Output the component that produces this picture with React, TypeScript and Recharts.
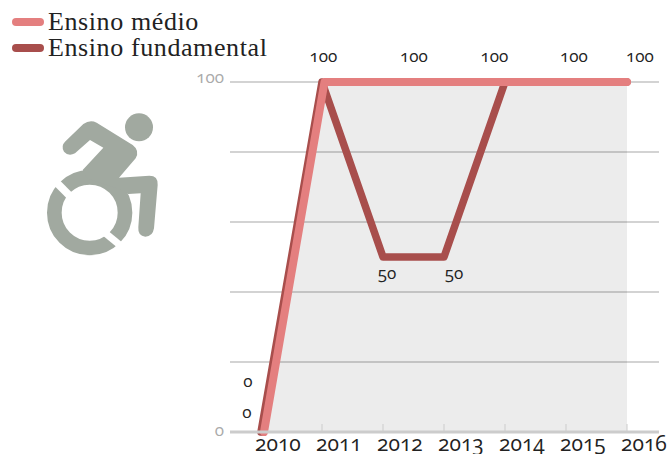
import { ComposedChart, Area, Line, XAxis, YAxis, CartesianGrid, LabelList } from "recharts";

const YEARS = ["2010", "2011", "2012", "2013", "2014", "2015", "2016"];
const MEDIO = [0, 100, 100, 100, 100, 100, 100];
const FUNDAMENTAL = [0, 100, 50, 50, 100, 100, 100];
const GRID_VALUES = [0, 20, 40, 60, 80, 100];

const SERIF = "'Liberation Serif', serif";
const NUM_FONT = "'Open Sans', sans-serif";
const NUMS = { fontVariantNumeric: "oldstyle-nums" } as const;

// where the original nudged its value labels, by point index
const MEDIO_LABELS: Record<number, [number, number]> = {
  0: [-16, -45],
  1: [-1, -20],
  2: [29, -20],
  3: [49, -20],
  4: [68, -20],
  6: [13, -20],
};
const FUNDAMENTAL_LABELS: Record<number, [number, number]> = {
  0: [-14, -14],
  2: [4, 22],
  3: [10, 22],
};

const chartData = YEARS.map((year, i) => ({
  year,
  medio: MEDIO[i],
  fundamental: FUNDAMENTAL[i],
}));

function valueLabel(offsets: Record<number, [number, number]>) {
  return (props: any) => {
    const at = offsets[props.index];
    if (!at) return null;
    return (
      <text
        x={props.x + at[0]}
        y={props.y + at[1]}
        textAnchor="middle"
        fontSize={17}
        fontFamily={NUM_FONT}
        fill="#222"
        style={NUMS}
      >
        {props.value}
      </text>
    );
  };
}

function YearTick({ x, y, payload, index }: any) {
  // y comes in 8px below the axis line
  const base = y - 8;
  return (
    <g>
      {index > 0 && <line x1={x} x2={x} y1={base - 8} y2={base} stroke="#ccc" strokeWidth={1} />}
      <text x={x - 6} y={base + 19} fontSize={21} fontFamily={NUM_FONT} fill="#222" style={NUMS}>
        {payload.value}
      </text>
    </g>
  );
}

function ValueTick({ x, y, payload }: any) {
  return (
    <text
      x={x + 2}
      y={payload.value === 0 ? y + 4 : y + 1}
      textAnchor="end"
      fontSize={17}
      fontFamily={NUM_FONT}
      fill="#aaa"
      style={NUMS}
    >
      {payload.value}
    </text>
  );
}

function LegendRow({ color, label }: { color: string; label: string }) {
  return (
    <div style={{ display: "flex", alignItems: "center", height: 26, lineHeight: "26px" }}>
      <span style={{ width: 32, height: 8, borderRadius: 4, background: color, marginRight: 4 }} />
      <span style={{ fontFamily: SERIF, fontSize: 26, letterSpacing: 0.6, color: "#222" }}>{label}</span>
    </div>
  );
}

function WheelchairIcon() {
  const c = "#a1a9a0";
  return (
    <svg width={125} height={150} viewBox="0 0 375 450" style={{ position: "absolute", left: 40, top: 110 }}>
      <circle cx={297} cy={52} r={42} fill={c} />
      <circle cx={149} cy={308} r={106} fill="none" stroke={c} strokeWidth={44} />
      <path
        d="M75 95 L130 42 Q150 28 170 38 L278 105 Q300 122 287 145 L237 203 L328 197 Q355 197 353 225 L342 355 Q338 380 316 380 Q293 378 295 352 L302 250 L265 252 L230 235 L140 205 L128 180 L190 113 L150 90 L105 130 Q85 140 72 125 Q62 108 75 95 Z"
        fill={c}
      />
      <line x1={45} y1={213} x2={92} y2={260} stroke="#fff" strokeWidth={23} />
      <line x1={192} y1={366} x2={243} y2={408} stroke="#fff" strokeWidth={21} />
    </svg>
  );
}

export default function App() {
  return (
    <div style={{ position: "fixed", left: 0, top: 0, width: 669, height: 454, overflow: "hidden", background: "#fff" }}>
      <ComposedChart
        width={669}
        height={454}
        data={chartData}
        margin={{ top: 82, right: 10, bottom: 0, left: 190 }}
      >
        <CartesianGrid horizontalValues={GRID_VALUES} vertical={false} stroke="#c4c4c4" strokeWidth={1.5} />
        <Area dataKey="medio" stroke="none" fill="#000" fillOpacity={0.075} isAnimationActive={false} dot={false} activeDot={false} />
        <XAxis
          dataKey="year"
          height={22}
          padding={{ left: 31, right: 32 }}
          axisLine={{ stroke: "#ccc", strokeWidth: 3 }}
          tickLine={false}
          tick={<YearTick />}
          interval={0}
        />
        <XAxis xAxisId="medio" dataKey="year" hide padding={{ left: 34, right: 32 }} />
        <YAxis width={40} domain={[0, 100]} ticks={[0, 100]} axisLine={false} tickLine={false} tick={<ValueTick />} />
        <Line dataKey="fundamental" stroke="#a84e4c" strokeWidth={7.5} dot={false} activeDot={false} strokeLinejoin="round" strokeLinecap="round" isAnimationActive={false}>
          <LabelList dataKey="fundamental" content={valueLabel(FUNDAMENTAL_LABELS)} />
        </Line>
        <Line xAxisId="medio" dataKey="medio" stroke="#e47f7f" strokeWidth={8} dot={false} activeDot={false} strokeLinejoin="round" strokeLinecap="round" isAnimationActive={false}>
          <LabelList dataKey="medio" content={valueLabel(MEDIO_LABELS)} />
        </Line>
      </ComposedChart>
      <div style={{ position: "absolute", left: 12, top: 9 }}>
        <LegendRow color="#e47f7f" label="Ensino médio" />
        <LegendRow color="#a84e4c" label="Ensino fundamental" />
      </div>
      <WheelchairIcon />
    </div>
  );
}
